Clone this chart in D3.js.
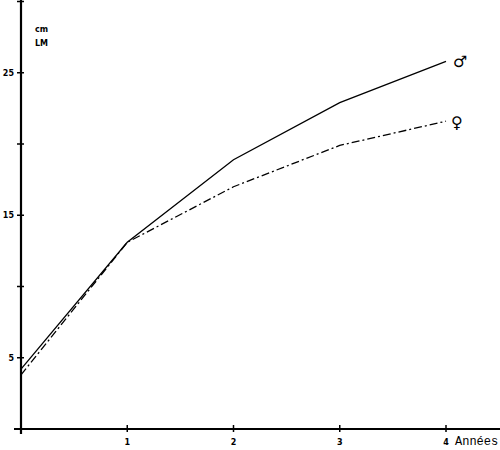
<!DOCTYPE html>
<html>
<head>
<meta charset="utf-8">
<script src="https://cdn.jsdelivr.net/npm/d3@7"></script>
<style>
  body { margin: 0; background: #fff; }
  svg { display: block; }
  .unit-x { font-family: "Liberation Mono", "Courier New", Courier, "Liberation Serif", serif; }
</style>
</head>
<body>
<div id="chart"></div>
<script>
// ages (years) and length LM (cm)
const ages = [0, 1, 2, 3, 4];
const males = [4.2, 13.1, 18.9, 22.9, 25.8];
const females = [3.8, 13.1, 17.0, 19.9, 21.6];
const yTicks = [5, 10, 15, 20, 25, 30];
const yLabels = [5, 15, 25];
const xTicks = [1, 2, 3, 4];

const width = 500, height = 450;
const svg = d3.select('#chart').append('svg')
  .attr('width', width)
  .attr('height', height);

// scales
const x = d3.scaleLinear().domain([0, 4]).range([21, 446]);
const y = d3.scaleLinear().domain([0, 30]).range([429, 1.5]);

// axes drawn by hand, old print style
svg.append('line')
  .attr('x1', x(0)).attr('x2', x(0))
  .attr('y1', 0).attr('y2', y(0) + 5)
  .attr('stroke', '#000').attr('stroke-width', 2.2);
svg.append('line')
  .attr('x1', x(0) - 7).attr('x2', width)
  .attr('y1', y(0)).attr('y2', y(0))
  .attr('stroke', '#000').attr('stroke-width', 2.2);

svg.append('g').selectAll('line').data(yTicks).enter()
  .append('line')
    .attr('x1', x(0) - 4).attr('x2', x(0) + 3)
    .attr('y1', d => y(d)).attr('y2', d => y(d))
    .attr('stroke', '#000').attr('stroke-width', 1.5);
svg.append('g').selectAll('text').data(yLabels).enter()
  .append('text')
    .text(d => d)
    .attr('x', x(0) - 7)
    .attr('y', d => y(d) + 3)
    .attr('text-anchor', 'end')
    .attr('font-family', 'DejaVu Sans')
    .attr('font-weight', 'bold')
    .attr('font-size', 8);

svg.append('g').selectAll('line').data(xTicks).enter()
  .append('line')
    .attr('x1', d => x(d)).attr('x2', d => x(d))
    .attr('y1', y(0) - 4).attr('y2', y(0) + 3)
    .attr('stroke', '#000').attr('stroke-width', 1.5);
svg.append('g').selectAll('text').data(xTicks).enter()
  .append('text')
    .text(d => d)
    .attr('x', d => x(d))
    .attr('y', y(0) + 16)
    .attr('text-anchor', 'middle')
    .attr('font-family', 'DejaVu Sans')
    .attr('font-weight', 'bold')
    .attr('font-size', 8);
svg.append('text')
  .attr('class', 'unit-x')
  .text('Années')
  .attr('x', x(4) + 9)
  .attr('y', y(0) + 16)
  .attr('font-size', 12);

// unit label
svg.append('text').text('cm')
  .attr('x', 35).attr('y', 32)
  .attr('font-family', 'DejaVu Sans').attr('font-weight', 'bold').attr('font-size', 8);
svg.append('text').text('LM')
  .attr('x', 35).attr('y', 46)
  .attr('font-family', 'DejaVu Sans').attr('font-weight', 'bold').attr('font-size', 8);

// growth curves
const line = d3.line()
  .x((d, i) => x(ages[i]))
  .y(d => y(d));
svg.append('path')
  .datum(males)
  .attr('d', line)
  .attr('fill', 'none')
  .attr('stroke', '#000')
  .attr('stroke-width', 1.3);
svg.append('path')
  .datum(females)
  .attr('d', line)
  .attr('fill', 'none')
  .attr('stroke', '#000')
  .attr('stroke-width', 1.3)
  .attr('stroke-dasharray', '8,3,2,3');

// sex symbols at end of curves
svg.append('text').text('\u2642')
  .attr('x', x(4) + 7).attr('y', y(males[4]) + 6)
  .attr('font-family', 'DejaVu Sans').attr('font-weight', 'bold').attr('font-size', 16);
svg.append('text').text('\u2640')
  .attr('x', x(4) + 5).attr('y', y(females[4]) + 7)
  .attr('font-family', 'DejaVu Sans').attr('font-weight', 'bold').attr('font-size', 16);
</script>
</body>
</html>
